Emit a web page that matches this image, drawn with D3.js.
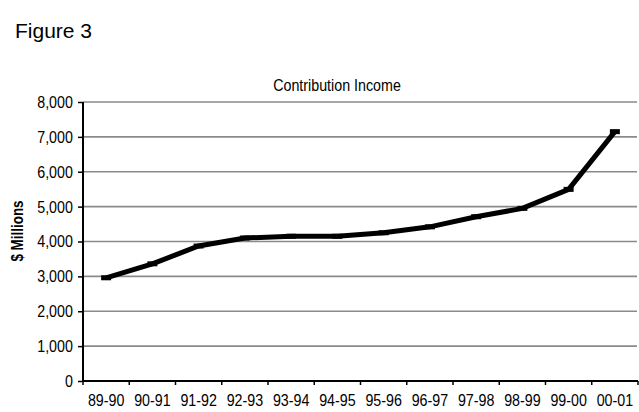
<!DOCTYPE html>
<html>
<head>
<meta charset="utf-8">
<script src="https://cdn.jsdelivr.net/npm/d3@7"></script>
<style>
  body { margin: 0; background: #fff; }
  text { font-family: "Liberation Sans", Arial, sans-serif; fill: #000; }
</style>
</head>
<body>
<svg width="639" height="412"></svg>
<script>
// data
const years = ['89-90', '90-91', '91-92', '92-93', '93-94', '94-95',
               '95-96', '96-97', '97-98', '98-99', '99-00', '00-01'];
const income = [2960, 3360, 3870, 4100, 4150, 4150, 4250, 4420, 4710, 4950, 5495, 7150];
const yTicks = [0, 1000, 2000, 3000, 4000, 5000, 6000, 7000, 8000];

const svg = d3.select('svg');

// plot area
const plotL = 83, plotR = 638, plotT = 102, plotB = 381;
const narrow = 'scale(0.84,1)'; // squeeze text like the original narrow face

const x = d3.scaleBand().domain(years).range([plotL, plotR]);
const y = d3.scaleLinear().domain([0, 8000]).range([plotB, plotT]);

// figure heading
svg.append('text')
    .attr('x', 15).attr('y', 38)
    .style('font-size', '21px')
    .text('Figure 3');

// chart title
svg.append('g')
    .attr('transform', 'translate(337,91)')
  .append('text')
    .attr('transform', narrow)
    .attr('text-anchor', 'middle')
    .style('font-size', '17px')
    .text('Contribution Income');

// gridlines
svg.append('g')
    .selectAll('line')
    .data(yTicks.filter(d => d > 0))
    .join('line')
    .attr('x1', plotL).attr('x2', plotR - 1)
    .attr('y1', d => y(d)).attr('y2', d => y(d))
    .attr('stroke', '#8a8a8a')
    .attr('stroke-width', 1.6);

// y axis
const yAxis = svg.append('g')
    .attr('transform', `translate(${plotL},0)`)
    .call(d3.axisLeft(y).tickValues(yTicks).tickSize(5).tickPadding(7)
        .tickFormat(d3.format(',')));
yAxis.select('.domain').attr('stroke-width', 2).attr('d', `M0,${plotT}V${plotB}`);
yAxis.selectAll('.tick line').attr('stroke-width', 1.5);
yAxis.selectAll('text').style('font-size', '17px').attr('transform', narrow);

// x axis
const xAxis = svg.append('g')
    .attr('transform', `translate(0,${plotB})`)
    .call(d3.axisBottom(x).tickSize(0).tickPadding(13));
xAxis.select('.domain').attr('stroke-width', 2).attr('d', `M${plotL},0H${plotR}`);
xAxis.selectAll('text').style('font-size', '17px').attr('transform', narrow);
xAxis.selectAll('.bound')
    .data(years.map(d => x(d)).concat([plotR]))
    .join('line')
    .attr('class', 'bound')
    .attr('x1', d => d).attr('x2', d => d)
    .attr('y1', 0).attr('y2', 4)
    .attr('stroke', '#000')
    .attr('stroke-width', 1.5);

// y axis label
svg.append('text')
    .attr('transform', 'translate(23,231) rotate(-90) scale(0.84,1)')
    .attr('text-anchor', 'middle')
    .style('font-size', '16px')
    .style('font-weight', 'bold')
    .text('$ Millions');

// the series
const cx = d => x(d) + x.bandwidth() / 2;
const line = d3.line()
    .x((d, i) => cx(years[i]))
    .y(d => y(d));

svg.append('path')
    .datum(income)
    .attr('d', line)
    .attr('fill', 'none')
    .attr('stroke', '#000')
    .attr('stroke-width', 5)
    .attr('stroke-linejoin', 'miter');

// dash markers
svg.append('g')
    .selectAll('line')
    .data(income)
    .join('line')
    .attr('x1', (d, i) => cx(years[i]) - 5)
    .attr('x2', (d, i) => cx(years[i]) + 5)
    .attr('y1', d => y(d)).attr('y2', d => y(d))
    .attr('stroke', '#000')
    .attr('stroke-width', 5);
</script>
</body>
</html>
